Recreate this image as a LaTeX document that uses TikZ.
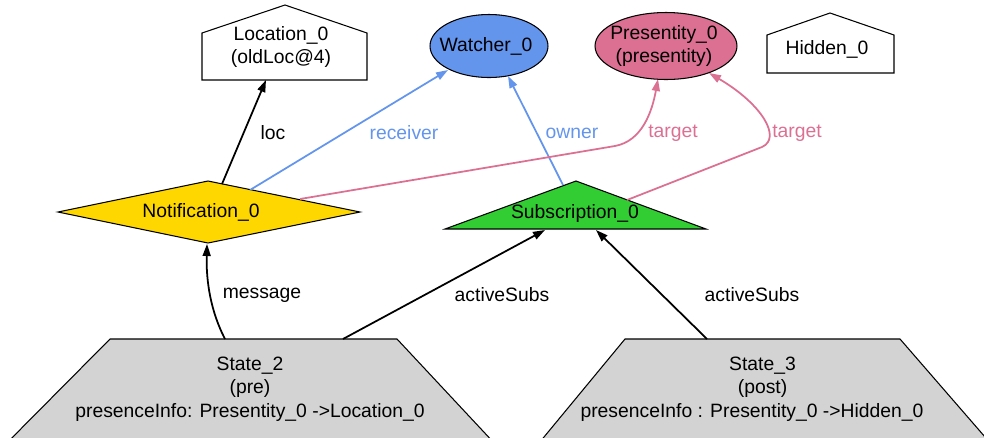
\documentclass[tikz,border=0pt]{standalone}
\usepackage{fontspec}
\setmainfont{Liberation Sans}
\usepackage{xcolor}
\usetikzlibrary{arrows.meta}

\definecolor{watchblue}{HTML}{6495ED}
\definecolor{presred}{HTML}{DB7093}
\definecolor{notegold}{HTML}{FFD700}
\definecolor{subgreen}{HTML}{32CD32}
\definecolor{stategray}{HTML}{D3D3D3}

\tikzset{
  lbl/.style={font=\fontsize{11}{13.5}\selectfont, align=center, inner sep=0pt},
  shp/.style={draw=black, line width=0.6pt},
  edge/.style={line width=1pt, -{Triangle[length=2.4mm,width=1.6mm]}},
  bedge/.style={edge, draw=watchblue},
  pedge/.style={edge, draw=presred},
}

\begin{document}
\begin{tikzpicture}[x=0.02cm, y=-0.02cm]
     \useasboundingbox (0,0) rectangle (984,437);
     \clip (0,0) rectangle (984,437);

     % top row
     \draw[shp] (202,80) -- (202,33) -- (285,5) -- (367,33) -- (367,80) -- cycle;
     \node[lbl] (location) at (281,47) {Location\_0\\(oldLoc@4)};
     \draw[shp, fill=watchblue] (489,46) ellipse [x radius=1.18cm, y radius=0.63cm];
     \node[lbl] (watcher) at (486,46) {Watcher\_0};
     \draw[shp, fill=presred] (666,46) ellipse [x radius=1.42cm, y radius=0.67cm];
     \node[lbl] (presentity) at (664,46) {Presentity\_0\\(presentity)};
     \draw[shp] (767,73) -- (767,35) -- (830,13) -- (894,35) -- (894,73) -- cycle;
     \node[lbl] (hidden) at (827,49) {Hidden\_0};

     % middle row
     \draw[shp, fill=notegold] (58,212) -- (208,181) -- (360,212) -- (208,243) -- cycle;
     \node[lbl] (notification) at (201,212) {Notification\_0};
     \draw[shp, fill=subgreen] (445,229) -- (576,181) -- (706,229) -- cycle;
     \node[lbl] (subscription) at (575,213) {Subscription\_0};

     % states
     \draw[shp, fill=stategray] (110,339) -- (397,339) -- (510,460) -- (-10,460) -- cycle;
     \node[lbl] (state2) at (250,389) {State\_2\\(pre)\\presenceInfo: Presentity\_0 -{}>Location\_0};
     \draw[shp, fill=stategray] (625,339) -- (900,339) -- (1005,460) -- (525,460) -- cycle;
     \node[lbl] (state3) at (752,389) {\hspace*{12pt}State\_3\\\hspace*{12pt}(post)\\presenceInfo : Presentity\_0 -{}>Hidden\_0};

     % ends of the connectors
     \coordinate (locS) at (266,80);
     \coordinate (watchSW) at (448,70);
     \coordinate (watchS) at (508,76);
     \coordinate (presS) at (658,79);
     \coordinate (presSE) at (709,73);
     \coordinate (noteN) at (222,184);
     \coordinate (noteNE) at (250,190);
     \coordinate (noteE) at (300,199);
     \coordinate (noteS) at (207,244);
     \coordinate (subN) at (563,185);
     \coordinate (subE) at (627,200);
     \coordinate (subSW) at (545,230);
     \coordinate (subSE) at (596,230);
     \coordinate (st2A) at (225,339);
     \coordinate (st2B) at (343,339);
     \coordinate (st3A) at (707,339);

     \draw[edge] (noteN) -- (locS);
     \draw[bedge] (noteNE) -- (watchSW);
     \draw[bedge] (subN) -- (watchS);
     \draw[pedge] (noteE) -- (615,146) .. controls (642,141) and (652,112) .. (presS);
     \draw[pedge] (subE) -- (762,147) .. controls (782,138) and (762,104) .. (presSE);
     \draw[edge] (st2A) .. controls (211,312) and (206,282) .. (noteS);
     \draw[edge] (st2B) -- (subSW);
     \draw[edge] (st3A) -- (subSE);

     \node[lbl] (locL) at (273,133) {loc};
     \node[lbl, text=watchblue] (receiverL) at (404,133) {receiver};
     \node[lbl, text=watchblue] (ownerL) at (572,133) {owner};
     \node[lbl, text=presred] (targetL1) at (673,133) {target};
     \node[lbl, text=presred] (targetL2) at (797,133) {target};
     \node[lbl] (messageL) at (262,295) {message};
     \node[lbl] (subsL1) at (502,295) {activeSubs};
     \node[lbl] (subsL2) at (752,295) {activeSubs};
\end{tikzpicture}
\end{document}
